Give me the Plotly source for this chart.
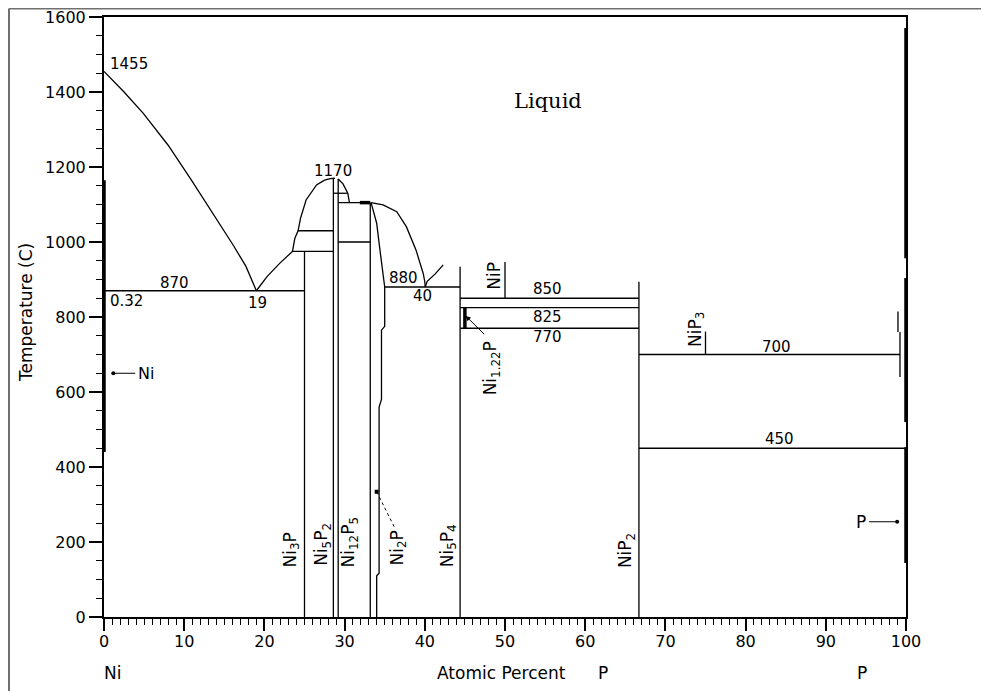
import plotly.graph_objects as go

# ---------------- data (x = atomic % P, T = temperature in C) ----------------
liq_ni_x = [0, 2.5, 4.9, 8.0, 10.9, 13.5, 16.1, 17.7, 19.0]
liq_ni_T = [1455, 1400, 1343, 1258, 1165, 1080, 992, 935, 870]

liq_ni3p_x = [19.0, 20.3, 21.9, 23.5, 23.8, 24.2, 24.5, 25.2, 26.5, 27.5, 28.2, 28.8]
liq_ni3p_T = [870, 907, 943, 975, 1010, 1030, 1063, 1112, 1152, 1165, 1169, 1170]

liq_ni12p5_x = [29.2, 29.8, 30.4, 30.6]
liq_ni12p5_T = [1168, 1155, 1130, 1105]

liq_ni2p_x = [33.3, 34.8, 36.5, 37.7, 38.9, 39.8, 40.0, 40.05]
liq_ni2p_T = [1105, 1099, 1081, 1041, 979, 916, 894, 880]

liq_ni5p4_x = [40.05, 40.3, 41.3, 42.3]
liq_ni5p4_T = [880, 895, 915, 939]

ni2p_bound_x = [33.3, 34.0, 34.4, 34.8, 35.0, 35.0, 34.6, 34.6, 34.3, 34.3, 34.0, 34.0]
ni2p_bound_T = [1105, 1050, 980, 910, 880, 775, 765, 580, 560, 117, 110, 0]

# invariant (horizontal) lines
iso_T = [870, 975, 1030, 1130, 1105, 1000, 880, 850, 825, 770, 700, 450]
iso_x0 = [0, 23.5, 24.2, 28.6, 29.2, 29.2, 35.0, 44.4, 44.4, 44.4, 66.7, 66.7]
iso_x1 = [25, 28.6, 28.6, 30.4, 33.2, 33.2, 44.4, 66.7, 66.7, 66.7, 99.25, 100]

# compound / phase (vertical) lines
vert_x = [25, 28.6, 29.2, 33.2, 44.4, 50, 66.7, 75, 99.0, 99.25]
vert_T0 = [0, 0, 0, 0, 0, 850, 0, 700, 760, 640]
vert_T1 = [975, 1170, 1168, 1105, 934, 947, 894, 761, 815, 760]

# thick (solid-solution) segments
thick_x0 = [0, 45.0, 100, 100, 100, 31.9]
thick_x1 = [0, 45.0, 100, 100, 100, 33.2]
thick_T0 = [440, 770, 957, 520, 144, 1105]
thick_T1 = [1165, 825, 1571, 904, 453, 1105]

# numeric labels
num_text = ["1455", "0.32", "1170", "870", "19", "880", "40", "850", "825", "770", "700", "450"]
num_x = [0.5, 0.5, 28.6, 8.85, 19.2, 37.4, 39.7, 55.3, 55.3, 55.3, 83.8, 84.2]
num_T = [1474, 842, 1190, 891, 838, 904, 856, 876, 801, 746, 721, 476]
num_anchor = ["left", "left", "center", "center", "center", "center", "center",
              "center", "center", "center", "center", "center"]

# phase labels (rotated)
phase_text = ["Ni<sub>3</sub>P", "Ni<sub>5</sub>P<sub>2</sub>", "Ni<sub>12</sub>P<sub>5</sub>",
              "Ni<sub>2</sub>P", "Ni<sub>5</sub>P<sub>4</sub>", "NiP<sub>2</sub>", "NiP",
              "NiP<sub>3</sub>", "Ni<sub>1.22</sub>P"]
phase_x = [23.4, 27.3, 30.6, 36.6, 42.9, 65.1, 48.7, 73.8, 48.3]
phase_T = [179, 195, 200, 184, 189, 176, 909, 768, 664]

x_ticks = [0, 10, 20, 30, 40, 50, 60, 70, 80, 90, 100]
y_ticks = [0, 200, 400, 600, 800, 1000, 1200, 1400, 1600]

# ---------------- figure ----------------
# page body has an 8px margin, so the figure is sized/offset to compensate
W, H = 981, 683
ML, MR, MT, MB = 96, 83, 9, 74
PW, PH = W - ML - MR, H - MT - MB

def px_x(fx):  # figure pixel -> paper x
    return (fx - ML) / PW

def px_y(fy):  # figure pixel -> paper y
    return (H - MB - fy) / PH

fig = go.Figure()
LW = 1.3
K = "black"

def add_line(xs, ys, width=LW, dash="solid"):
    fig.add_trace(go.Scatter(x=xs, y=ys, mode="lines", cliponaxis=False,
                             line=dict(color=K, width=width, dash=dash),
                             hoverinfo="skip", showlegend=False))

for xs, ys in [(liq_ni_x, liq_ni_T), (liq_ni3p_x, liq_ni3p_T), (liq_ni12p5_x, liq_ni12p5_T),
               (liq_ni2p_x, liq_ni2p_T), (liq_ni5p4_x, liq_ni5p4_T), (ni2p_bound_x, ni2p_bound_T)]:
    add_line(xs, ys)

for t, a, b in zip(iso_T, iso_x0, iso_x1):
    add_line([a, b], [t, t])

for x, a, b in zip(vert_x, vert_T0, vert_T1):
    add_line([x, x], [a, b])

for a, b, c, d in zip(thick_x0, thick_x1, thick_T0, thick_T1):
    add_line([a, b], [c, d], width=3.5)

# Ni / P pure-element markers
ni_mark_x = [1.16, 3.9]
ni_mark_T = [650, 650]
p_mark_x = [95.4, 98.9]
p_mark_T = [254, 254]
add_line(ni_mark_x, ni_mark_T, width=1)
add_line(p_mark_x, p_mark_T, width=1)
fig.add_trace(go.Scatter(x=[ni_mark_x[0], p_mark_x[1]], y=[ni_mark_T[0], p_mark_T[1]],
                         mode="markers", marker=dict(color=K, size=4), cliponaxis=False,
                         hoverinfo="skip", showlegend=False))

# Ni2P pointer (dotted)
ni2p_ptr_x = [34.0, 36.2]
ni2p_ptr_T = [334, 240]
add_line(ni2p_ptr_x, ni2p_ptr_T, width=1, dash="dot")
fig.add_trace(go.Scatter(x=[ni2p_ptr_x[0]], y=[ni2p_ptr_T[0]], mode="markers",
                         marker=dict(color=K, size=4, symbol="square"), cliponaxis=False,
                         hoverinfo="skip", showlegend=False))

FONT = "DejaVu Sans"
ann = []
for t, x, y, anc in zip(num_text, num_x, num_T, num_anchor):
    ann.append(dict(x=x, y=y, text=t, showarrow=False, xanchor=anc, yanchor="middle",
                    font=dict(family=FONT, size=15, color=K)))
for t, x, y in zip(phase_text, phase_x, phase_T):
    ann.append(dict(x=x, y=y, text=t, showarrow=False, textangle=-90,
                    xanchor="center", yanchor="middle",
                    font=dict(family=FONT, size=17, color=K)))
# Ni1.22P arrow
ann.append(dict(x=45.1, y=803, ax=47.6, ay=750, axref="x", ayref="y", text="",
                showarrow=True, arrowhead=2, arrowsize=1, arrowwidth=1, arrowcolor=K))
ann.append(dict(x=4.0, y=650, text="Ni", showarrow=False, xanchor="left", yanchor="middle",
                font=dict(family=FONT, size=16, color=K)))
ann.append(dict(x=95.2, y=254, text="P", showarrow=False, xanchor="right", yanchor="middle",
                font=dict(family=FONT, size=17, color=K)))
ann.append(dict(x=55.35, y=1375, text="Liquid", showarrow=False,
                xanchor="center", yanchor="middle",
                font=dict(family="DejaVu Serif", size=21, color=K)))

# axis titles (paper coordinates; window px - 8 = figure px)
axis_title_font = dict(family=FONT, size=17, color=K)
def title_ann(x, y, text, angle=0):
    return dict(xref="paper", yref="paper", x=x, y=y, text=text, showarrow=False,
                textangle=angle, xanchor="center", yanchor="middle", font=axis_title_font)

bottom_y = px_y(665)
ann.append(title_ann(px_x(18), px_y(305), "Temperature (C)", -90))
ann.append(title_ann(0.011, bottom_y, "Ni"))
ann.append(title_ann(0.496, bottom_y, "Atomic Percent"))
ann.append(title_ann(0.622, bottom_y, "P"))
ann.append(title_ann(0.945, bottom_y, "P"))

axis_common = dict(showgrid=False, zeroline=False, showline=True, linecolor=K, linewidth=2,
                   mirror=True, ticks="outside", tickcolor=K, tickwidth=1.5, automargin=False,
                   ticklabeloverflow="allow",
                   tickfont=dict(family=FONT, size=16, color=K))

fig.update_layout(
    width=W, height=H,
    margin=dict(l=ML, r=MR, t=MT, b=MB, pad=0),
    paper_bgcolor="white", plot_bgcolor="white",
    showlegend=False,
    annotations=ann,
    xaxis=dict(range=[0, 100], tickvals=x_ticks, ticklen=12, ticklabelstandoff=-3,
               minor=dict(dtick=1, ticklen=6, ticks="outside", tickcolor=K, tickwidth=1),
               **axis_common),
    yaxis=dict(range=[0, 1600], tickvals=y_ticks, ticklen=13,
               minor=dict(dtick=50, ticklen=6, ticks="outside", tickcolor=K, tickwidth=1),
               **axis_common),
    shapes=[
        dict(type="line", xref="paper", yref="paper", x0=px_x(1), x1=px_x(W + 20),
             y0=px_y(0.5), y1=px_y(0.5), line=dict(color="#707070", width=2)),
        dict(type="line", xref="paper", yref="paper", x0=px_x(1), x1=px_x(1),
             y0=px_y(H + 20), y1=px_y(0.5), line=dict(color="#707070", width=2)),
    ],
)

fig.write_html("out.html")
